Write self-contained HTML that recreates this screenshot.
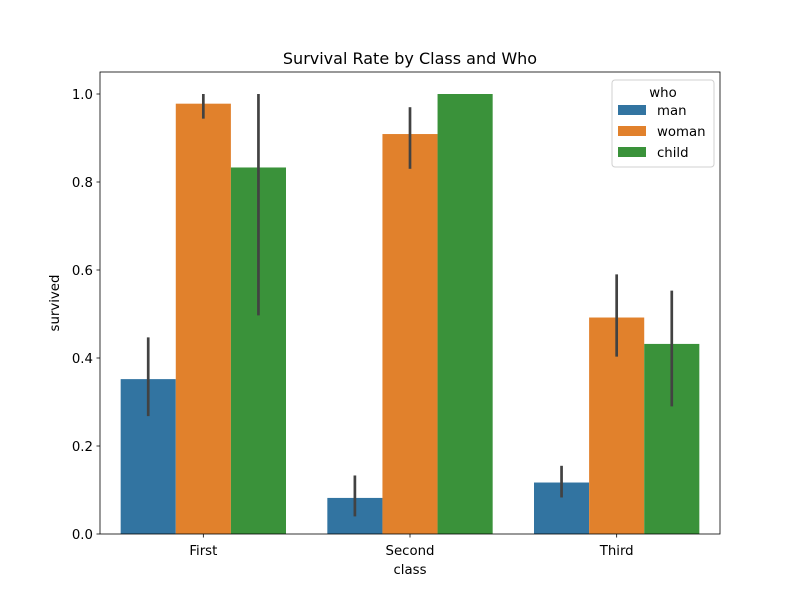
<!DOCTYPE html>
<html><head><meta charset="utf-8"><style>body{margin:0;background:#fff}svg text{font-family:"DejaVu Sans","Liberation Sans",sans-serif;fill:#000}</style></head>
<body>
<svg id="c" width="800" height="600"></svg>
<script>
const categories=["First","Second","Third"];
const hues=["man","woman","child"];
const colors=["#3274a1","#e1812c","#3a923a"];
const manVals=[0.352,0.082,0.117];
const womanVals=[0.978,0.909,0.492];
const childVals=[0.833,1.0,0.432];
const manErr=[[0.268,0.447],[0.040,0.133],[0.083,0.155]];
const womanErr=[[0.944,1.0],[0.830,0.970],[0.403,0.590]];
const childErr=[[0.497,1.0],[1.0,1.0],[0.290,0.553]];
const yTicks=[0,0.2,0.4,0.6,0.8,1.0];
const yTickLabels=["0.0","0.2","0.4","0.6","0.8","1.0"];
const L=100,R=720,T=72,B=534;
const svg=document.getElementById('c');const NS="http://www.w3.org/2000/svg";
function y(v){return B-(v/1.05)*(B-T);}
const band=(R-L)/categories.length;
function xc(i){return L+band*(i+0.5);}
function mk(t,a,p){const e=document.createElementNS(NS,t);for(const k in a)e.setAttribute(k,a[k]);(p||svg).appendChild(e);return e;}
const vals=[manVals,womanVals,childVals],errs=[manErr,womanErr,childErr];
const bw=band*0.8/3;
for(let h=0;h<3;h++)for(let i=0;i<categories.length;i++){
 const x0=xc(i)-band*0.4+h*bw;
 const r=mk('rect',{x:x0,y:y(vals[h][i]),width:bw,height:B-y(vals[h][i]),fill:colors[h]});
 
 
 const e=errs[h][i];
 if(e[1]-e[0]>0){const l=mk('line',{x1:x0+bw/2,x2:x0+bw/2,y1:y(e[0]),y2:y(e[1]),stroke:'#424242','stroke-width':2.7});
 
 }
}
const ax=mk('rect',{x:L,y:T,width:R-L,height:B-T,fill:'none',stroke:'#000','stroke-width':0.8});


yTicks.forEach((v,i)=>{mk('line',{x1:L-3.5,x2:L,y1:y(v),y2:y(v),stroke:'#000','stroke-width':0.8});
 const t=mk('text',{x:L-7,y:y(v)+5,'text-anchor':'end','font-size':13.3});t.textContent=yTickLabels[i];
 
 });
categories.forEach((c,i)=>{mk('line',{x1:xc(i),x2:xc(i),y1:B,y2:B+3.5,stroke:'#000','stroke-width':0.8});
 const t=mk('text',{x:xc(i),y:B+21,'text-anchor':'middle','font-size':13.3});t.textContent=c;
 
 });
let t=mk('text',{x:410,y:64,'text-anchor':'middle','font-size':16});t.textContent="Survival Rate by Class and Who";

t=mk('text',{x:410,y:574,'text-anchor':'middle','font-size':13.3});t.textContent="class";

t=mk('text',{x:59,y:303,'text-anchor':'middle','font-size':13.3,transform:'rotate(-90 59 303)'});t.textContent="survived";

const lg=mk('g',{});
mk('rect',{x:612,y:80,width:102,height:87,rx:3,fill:'#fff',stroke:'#ccc','stroke-width':1,opacity:0.9},lg);
t=mk('text',{x:663,y:97,'text-anchor':'middle','font-size':13.3},lg);t.textContent="who";
hues.forEach((h,i)=>{const gy=105+i*21;
 const g=mk('g',{},lg);
 mk('rect',{x:618,y:gy,width:28,height:10,fill:colors[i]},g);
 const tt=mk('text',{x:657,y:gy+10,'font-size':13.3},g);tt.textContent=h;});
</script>
</body></html>
